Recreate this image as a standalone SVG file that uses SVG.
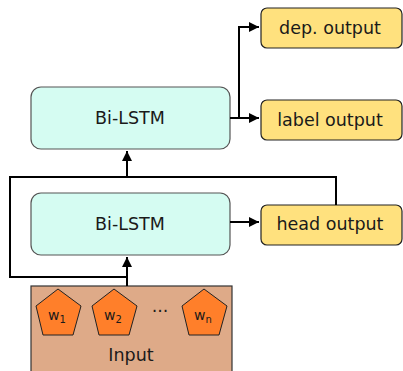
<svg xmlns="http://www.w3.org/2000/svg" width="403" height="371" viewBox="0 0 403 371">
  <defs>
    <marker id="arrow" viewBox="0 0 10 10" refX="10" refY="5" markerWidth="5.5" markerHeight="5" orient="auto" markerUnits="strokeWidth">
      <path d="M0,0 L10,5 L0,10 z" fill="#000"/>
    </marker>
  </defs>
  <style>
    text { font-family: "DejaVu Sans", "Liberation Sans", sans-serif; fill: #1a1a1a; }
    .lbl { font-size: 17.5px; text-anchor: middle; }
    .lstm { fill: #d5fcf2; stroke: #555; stroke-width: 1.2; }
    .out { fill: #ffe17e; stroke: #222; stroke-width: 1.2; }
    .word { fill: #ff7f2a; stroke: #222; stroke-width: 1; }
    .w { font-size: 14px; text-anchor: middle; }
    .conn { fill: none; stroke: #000; stroke-width: 2; }
  </style>

  <!-- input layer -->
  <g id="input">
    <rect x="31" y="286" width="201" height="90" fill="#deaa88" stroke="#333" stroke-width="1.2"/>
    <text class="lbl" x="131" y="361">Input</text>
  </g>
  <g id="w1">
    <polygon class="word" points="58,289 81,306 73,335 43,335 36,306"/>
    <text class="w" x="57" y="319.5">w<tspan font-size="10" dy="3">1</tspan></text>
  </g>
  <g id="w2">
    <polygon class="word" points="114,289 137,306 129,335 99,335 92,306"/>
    <text class="w" x="113" y="319.5" fill="#1a1a4a">w<tspan font-size="10" dy="3">2</tspan></text>
  </g>
  <g id="dots">
    <text class="lbl" x="160" y="312">...</text>
  </g>
  <g id="wn">
    <polygon class="word" points="204,289 227,306 219,335 189,335 182,306"/>
    <text class="w" x="203" y="319.5">w<tspan font-size="10" dy="3">n</tspan></text>
  </g>

  <!-- recurrent layers -->
  <g id="bilstm-lower">
    <rect class="lstm" x="31" y="193" width="199" height="62" rx="10"/>
    <text class="lbl" x="130" y="230">Bi-LSTM</text>
  </g>
  <g id="bilstm-upper">
    <rect class="lstm" x="31" y="87" width="199" height="62" rx="10"/>
    <text class="lbl" x="130" y="124">Bi-LSTM</text>
  </g>

  <!-- outputs -->
  <g id="dep-output">
    <rect class="out" x="261" y="8" width="141" height="40" rx="6"/>
    <text class="lbl" x="330" y="34">dep. output</text>
  </g>
  <g id="label-output">
    <rect class="out" x="261" y="100" width="141" height="40" rx="6"/>
    <text class="lbl" x="330" y="126">label output</text>
  </g>
  <g id="head-output">
    <rect class="out" x="261" y="205" width="141" height="40" rx="6"/>
    <text class="lbl" x="330" y="230">head output</text>
  </g>

  <!-- connectors -->
  <g id="connectors">
    <path class="conn" d="M127,286 V257" marker-end="url(#arrow)"/>
    <path class="conn" d="M127,277 H10 V177 H336 V205"/>
    <path class="conn" d="M127,177 V151" marker-end="url(#arrow)"/>
    <path class="conn" d="M230,222 H259" marker-end="url(#arrow)"/>
    <path class="conn" d="M230,118 H259" marker-end="url(#arrow)"/>
    <path class="conn" d="M239,118 V27 H259" marker-end="url(#arrow)"/>
  </g>
</svg>
